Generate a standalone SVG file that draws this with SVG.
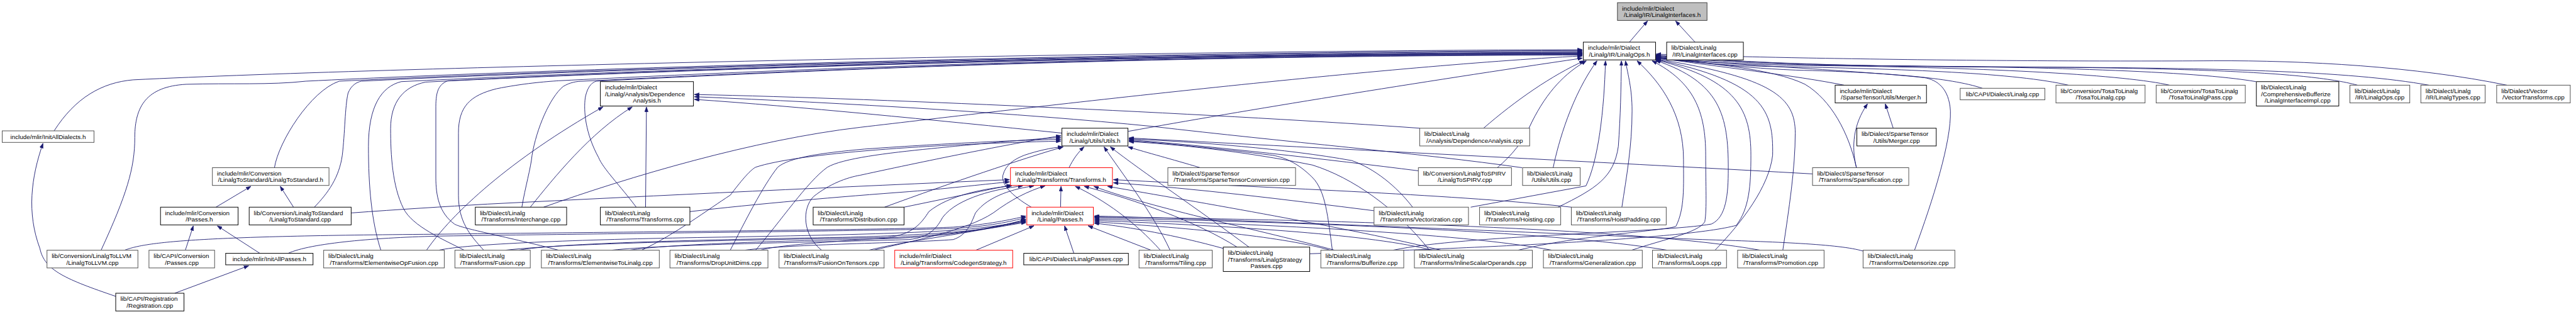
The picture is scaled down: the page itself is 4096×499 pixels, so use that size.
<svg xmlns="http://www.w3.org/2000/svg" width="4096" height="499" viewBox="0 0 4096 499">
<defs>
<marker id="ah" viewBox="0 0 11 8" refX="11" refY="4" markerWidth="11" markerHeight="8" markerUnits="userSpaceOnUse" orient="auto"><path d="M0,0 L11,4 L0,8 z" fill="#191970" stroke="#191970" stroke-width="0.8"/></marker>
</defs>
<style>
.e path{fill:none;stroke:#191970;stroke-width:1.3;marker-end:url(#ah)}
.node rect{fill:#fff;stroke:#000;stroke-width:1.4}
.gy rect{stroke:#505050}
.rd rect{stroke:#ff0000}
.rt rect{fill:#bfbfbf;stroke:#404040}
text{font-family:"Liberation Sans",Arial,Helvetica,sans-serif;font-size:14px;fill:#000}
.c{text-anchor:middle}
</style>
<rect x="0" y="0" width="4096" height="499" fill="#fff"/>
<g transform="scale(0.705)">
<g id="connectors" class="e">
<path d="M3675,95 L3716,47"/>
<path d="M3823,95 L3779,47"/>
<path d="M122,295 C170,220 230,186 300,180 C900,150 2600,114 3569,112"/>
<path d="M228,564 C285,440 304,380 304,310 C304,240 330,195 420,190 C520,187 610,192 690,183 C1290,153 2600,116 3569,114"/>
<path d="M619,378 C628,320 700,205 765,183 C1365,153 2600,118 3569,116"/>
<path d="M709,467 C740,435 765,400 772,350 C778,300 778,240 785,210 C792,192 805,185 815,183 C1415,153 2600,120 3569,118"/>
<path d="M859,564 C838,500 831,420 831,330 C831,240 860,195 905,184 C1505,154 2600,121 3569,119"/>
<path d="M1047,564 C1000,540 930,510 910,470 C885,420 881,350 881,290 C881,230 910,195 960,185 C1560,155 2600,122 3569,120"/>
<path d="M1260,564 C1150,535 1040,515 1025,505 C990,480 983,440 983,400 L983,240 C983,205 990,190 1010,182 C1610,152 2600,123 3569,121"/>
<path d="M1091,564 C1060,530 1034,500 1034,440 L1034,300 C1034,240 1060,215 1120,200 C1180,188 1230,184 1260,182 C1860,152 2600,124 3569,122"/>
<path d="M1177,467 C1185,420 1197,380 1200,350 C1210,290 1240,220 1270,195 C1285,186 1300,183 1315,183 C1915,153 2600,125 3569,123"/>
<path d="M1435,467 C1400,420 1360,380 1350,355 C1320,300 1316,250 1320,220 C1325,195 1335,186 1345,183 C1945,153 2600,126 3569,124"/>
<path d="M1226,467 C1420,398 1700,315 1940,287 C2300,245 3100,150 3569,126"/>
<path d="M2545,296 C2800,250 3200,185 3569,131"/>
<path d="M3346,289 C3420,225 3500,170 3573,137"/>
<path d="M3377,378 C3410,350 3435,320 3455,275 C3490,205 3530,165 3578,137"/>
<path d="M3503,378 C3515,320 3545,215 3602,137"/>
<path d="M3317,467 L3577,419 C3605,360 3618,250 3621,137"/>
<path d="M3514,467 C3600,425 3640,400 3650,330 C3655,260 3656,200 3657,137"/>
<path d="M3658,467 C3668,400 3681,330 3681,250 C3681,200 3672,170 3666,137"/>
<path d="M3424,564 C3560,530 3760,520 3780,510 C3800,470 3797,420 3797,360 C3797,260 3750,190 3692,137"/>
<path d="M3680,564 C3750,540 3830,525 3845,500 C3850,470 3847,420 3847,350 C3847,250 3820,185 3726,137"/>
<path d="M3142,564 C3300,530 3750,525 3860,505 C3893,490 3898,440 3898,380 C3898,260 3880,185 3734,136"/>
<path d="M2954,572 C3300,560 3800,540 3916,508 C3945,470 3949,420 3949,350 C3949,250 3920,180 3735,135"/>
<path d="M3868,564 C3930,500 3990,420 3998,350 C4000,250 3980,185 3735,134"/>
<path d="M4021,564 C4035,470 4049,380 4049,300 C4049,220 4000,175 3735,133"/>
<path d="M4187,378 C4170,300 4130,225 4071,190 C4000,155 3850,142 3735,132"/>
<path d="M4318,564 C4360,450 4401,320 4399,250 C4396,200 4370,180 4340,175 C4200,160 3900,145 3735,131"/>
<path d="M4159,192 C4050,170 3870,150 3735,130"/>
<path d="M4471,199 C4400,175 4250,163 4050,158 C3900,152 3800,135 3735,129"/>
<path d="M4665,192 C4550,165 4300,155 4000,150 C3850,147 3780,135 3735,128"/>
<path d="M4893,192 C4800,170 4500,152 4100,148 C3900,146 3790,135 3735,127"/>
<path d="M5088,184 C4950,160 4600,150 4200,148 C3950,146 3800,133 3735,126"/>
<path d="M5317,192 C5200,160 4900,152 4400,150 C4000,148 3820,132 3735,125"/>
<path d="M5478,192 C5300,160 5000,152 4500,151 C4000,149 3820,131 3735,124"/>
<path d="M5654,192 C5450,150 5200,136 4992,137 C4500,140 3950,130 3735,122"/>
<path d="M1456,467 L1458,241"/>
<path d="M1196,467 C1250,400 1330,300 1426,241"/>
<path d="M962,564 C1020,480 1150,360 1360,241"/>
<path d="M2395,300 C2100,270 1800,240 1566,224"/>
<path d="M3202,289 C2800,260 2000,222 1566,213"/>
<path d="M3433,378 C3200,345 2900,320 2600,285 C2300,255 1900,232 1566,218"/>
<path d="M2411,378 C2420,360 2430,345 2445,331"/>
<path d="M1447,564 C1520,530 1600,470 1647,440 C1670,410 1690,385 1704,377 C1800,345 2100,325 2393,318"/>
<path d="M1647,564 C1680,500 1720,420 1754,377 C1780,355 1850,345 1950,336 C2150,322 2300,316 2393,314"/>
<path d="M1704,564 C1760,500 1820,410 1866,377 C1900,357 2000,345 2100,335 C2250,320 2350,312 2393,310"/>
<path d="M1853,564 C1810,530 1808,470 1835,443 C1870,415 1910,400 1940,395 C2100,360 2300,320 2393,306"/>
<path d="M1995,467 C2150,410 2300,360 2398,331"/>
<path d="M2639,564 C2600,480 2530,390 2490,331"/>
<path d="M2817,557 C2700,470 2580,390 2504,331"/>
<path d="M2707,378 C2640,358 2590,345 2544,331"/>
<path d="M2326,467 C2280,440 2258,415 2262,395 C2268,370 2290,358 2310,350 C2340,340 2370,333 2397,331"/>
<path d="M3199,385 C3000,360 2720,328 2546,315"/>
<path d="M3186,467 C3150,420 3100,380 3049,362 C2900,335 2700,320 2546,313"/>
<path d="M3005,564 C2995,490 2990,430 2960,400 C2930,370 2900,355 2870,350 C2750,335 2620,322 2546,317"/>
<path d="M3224,564 C3150,470 3050,400 2960,372 C2800,340 2650,325 2546,319"/>
<path d="M4088,392 C3700,370 3000,335 2546,311"/>
<path d="M2392,467 L2393,420"/>
<path d="M2617,564 C2560,500 2490,450 2425,420"/>
<path d="M2790,557 C2700,500 2560,450 2445,420"/>
<path d="M3010,564 C2850,520 2600,470 2467,420"/>
<path d="M3250,564 C3050,515 2700,455 2498,420"/>
<path d="M792,480 C900,472 1000,466 1100,460 C1500,440 1900,421 2277,405"/>
<path d="M1556,477 C1700,460 1900,443 2050,432 C2150,424 2230,414 2277,410"/>
<path d="M2039,467 L2281,417"/>
<path d="M1140,564 C1300,545 1800,540 2000,535 C2060,530 2080,500 2095,477 C2140,440 2220,425 2282,419"/>
<path d="M1380,564 C1500,550 1900,545 2050,540 C2100,535 2115,510 2126,490 C2160,445 2250,425 2307,419"/>
<path d="M1680,564 C1780,550 2050,548 2150,540 C2180,530 2190,505 2200,480 C2230,440 2290,425 2332,419"/>
<path d="M1970,564 C2050,545 2180,520 2240,480 C2280,450 2320,430 2357,419"/>
<path d="M3099,475 C2900,450 2700,425 2511,412"/>
<path d="M3544,467 C3300,440 2900,425 2511,405"/>
<path d="M650,571 C700,548 850,535 1000,532 C1500,525 2000,520 2150,515 C2230,510 2280,500 2314,490"/>
<path d="M281,564 C330,545 450,532 980,528 C1500,522 2000,518 2150,512 C2230,506 2280,495 2314,487"/>
<path d="M990,564 C1050,550 1300,540 1600,535 C1900,530 2100,525 2200,515 C2260,508 2290,502 2314,500"/>
<path d="M1170,564 C1250,548 1600,540 1900,535 C2100,530 2200,520 2250,512 C2280,507 2300,503 2314,502"/>
<path d="M1420,564 C1500,550 1800,542 2000,538 C2150,533 2230,515 2314,496"/>
<path d="M1715,564 C1760,550 1950,540 2100,530 C2200,522 2280,505 2314,494"/>
<path d="M1960,564 C2020,548 2150,530 2230,515 C2270,507 2300,502 2314,498"/>
<path d="M2201,564 L2332,509"/>
<path d="M2422,571 L2401,509"/>
<path d="M2596,564 L2454,509"/>
<path d="M2759,560 C2650,530 2550,512 2468,503"/>
<path d="M3000,564 C2900,535 2700,515 2468,500"/>
<path d="M3230,564 C3100,530 2800,510 2468,497"/>
<path d="M3500,564 C3300,525 2800,503 2468,494"/>
<path d="M3760,564 C3500,520 2900,500 2468,491"/>
<path d="M3970,564 C3700,515 3000,495 2468,489"/>
<path d="M4202,566 C4150,550 4000,545 3840,540 C3400,522 2800,495 2468,487"/>
<path d="M4270,289 L4252,234"/>
<path d="M4187,378 C4175,330 4180,280 4212,234"/>
<path d="M487,467 L566,420"/>
<path d="M662,467 L632,420"/>
<path d="M418,564 L436,509"/>
<path d="M586,571 L490,509"/>
<path d="M394,661 L561,599"/>
<path d="M261,668 C150,630 100,610 90,560 C60,480 70,400 97,323"/>
</g>
<g id="n_root" class="node rt"><rect x="3648" y="6" width="202" height="40"/><text x="3658.5" y="23.5">include/mlir/Dialect</text><text class="c" x="3749" y="38.5">/Linalg/IR/LinalgInterfaces.h</text></g>
<g id="n_ops" class="node"><rect x="3571" y="95" width="163" height="40"/><text x="3581.5" y="112.5">include/mlir/Dialect</text><text class="c" x="3652.5" y="127.5">/Linalg/IR/LinalgOps.h</text></g>
<g id="n_ifcpp" class="node"><rect x="3759" y="95" width="173" height="40"/><text x="3769.5" y="112.5">lib/Dialect/Linalg</text><text class="c" x="3845.5" y="127.5">/IR/LinalgInterfaces.cpp</text></g>
<g id="n_initdial" class="node gy"><rect x="5" y="295" width="207" height="26"/><text class="c" x="108.5" y="313">include/mlir/InitAllDialects.h</text></g>
<g id="n_dah" class="node"><rect x="1354" y="184" width="210" height="55"/><text x="1364.5" y="201.5">include/mlir/Dialect</text><text x="1364.5" y="216.5">/Linalg/Analysis/Dependence</text><text class="c" x="1459" y="231.5">Analysis.h</text></g>
<g id="n_utilsh" class="node"><rect x="2395" y="289" width="149" height="40"/><text x="2405.5" y="306.5">include/mlir/Dialect</text><text class="c" x="2469.5" y="321.5">/Linalg/Utils/Utils.h</text></g>
<g id="n_dacpp" class="node gy"><rect x="3202" y="289" width="248" height="40"/><text x="3212.5" y="306.5">lib/Dialect/Linalg</text><text class="c" x="3326" y="321.5">/Analysis/DependenceAnalysis.cpp</text></g>
<g id="n_mergerh" class="node"><rect x="4139" y="192" width="206" height="40"/><text x="4149.5" y="209.5">include/mlir/Dialect</text><text class="c" x="4242" y="224.5">/SparseTensor/Utils/Merger.h</text></g>
<g id="n_mergercpp" class="node"><rect x="4188" y="289" width="179" height="40"/><text x="4198.5" y="306.5">lib/Dialect/SparseTensor</text><text class="c" x="4277.5" y="321.5">/Utils/Merger.cpp</text></g>
<g id="n_capilinalg" class="node gy"><rect x="4421" y="199" width="191" height="26"/><text class="c" x="4516.5" y="217">lib/CAPI/Dialect/Linalg.cpp</text></g>
<g id="n_tosa" class="node gy"><rect x="4637" y="192" width="201" height="40"/><text x="4647.5" y="209.5">lib/Conversion/TosaToLinalg</text><text class="c" x="4737.5" y="224.5">/TosaToLinalg.cpp</text></g>
<g id="n_tosapass" class="node gy"><rect x="4863" y="192" width="201" height="40"/><text x="4873.5" y="209.5">lib/Conversion/TosaToLinalg</text><text class="c" x="4963.5" y="224.5">/TosaToLinalgPass.cpp</text></g>
<g id="n_cbimpl" class="node"><rect x="5089" y="184" width="186" height="55"/><text x="5099.5" y="201.5">lib/Dialect/Linalg</text><text x="5099.5" y="216.5">/ComprehensiveBufferize</text><text class="c" x="5182" y="231.5">/LinalgInterfaceImpl.cpp</text></g>
<g id="n_opscpp" class="node gy"><rect x="5300" y="192" width="135" height="40"/><text x="5310.5" y="209.5">lib/Dialect/Linalg</text><text class="c" x="5367.5" y="224.5">/IR/LinalgOps.cpp</text></g>
<g id="n_typescpp" class="node gy"><rect x="5460" y="192" width="145" height="40"/><text x="5470.5" y="209.5">lib/Dialect/Linalg</text><text class="c" x="5532.5" y="224.5">/IR/LinalgTypes.cpp</text></g>
<g id="n_vector" class="node gy"><rect x="5631" y="192" width="166" height="40"/><text x="5641.5" y="209.5">lib/Dialect/Vector</text><text class="c" x="5714" y="224.5">/VectorTransforms.cpp</text></g>
<g id="n_l2sh" class="node gy"><rect x="479" y="378" width="263" height="40"/><text x="489.5" y="395.5">include/mlir/Conversion</text><text class="c" x="610.5" y="410.5">/LinalgToStandard/LinalgToStandard.h</text></g>
<g id="n_convpasses" class="node"><rect x="362" y="467" width="175" height="40"/><text x="372.5" y="484.5">include/mlir/Conversion</text><text class="c" x="449.5" y="499.5">/Passes.h</text></g>
<g id="n_l2scpp" class="node"><rect x="562" y="467" width="230" height="40"/><text x="572.5" y="484.5">lib/Conversion/LinalgToStandard</text><text class="c" x="677" y="499.5">/LinalgToStandard.cpp</text></g>
<g id="n_l2llvm" class="node gy"><rect x="106" y="564" width="205" height="40"/><text x="116.5" y="581.5">lib/Conversion/LinalgToLLVM</text><text class="c" x="208.5" y="596.5">/LinalgToLLVM.cpp</text></g>
<g id="n_capiconv" class="node gy"><rect x="336" y="564" width="148" height="40"/><text x="346.5" y="581.5">lib/CAPI/Conversion</text><text class="c" x="410" y="596.5">/Passes.cpp</text></g>
<g id="n_initpasses" class="node"><rect x="509" y="571" width="197" height="26"/><text class="c" x="607.5" y="589">include/mlir/InitAllPasses.h</text></g>
<g id="n_ewopfusion" class="node gy"><rect x="730" y="564" width="272" height="40"/><text x="740.5" y="581.5">lib/Dialect/Linalg</text><text class="c" x="866" y="596.5">/Transforms/ElementwiseOpFusion.cpp</text></g>
<g id="n_registration" class="node"><rect x="261" y="661" width="154" height="40"/><text x="271.5" y="678.5">lib/CAPI/Registration</text><text class="c" x="338" y="693.5">/Registration.cpp</text></g>
<g id="n_interchange" class="node"><rect x="1072" y="467" width="206" height="40"/><text x="1082.5" y="484.5">lib/Dialect/Linalg</text><text class="c" x="1175" y="499.5">/Transforms/Interchange.cpp</text></g>
<g id="n_transformscpp" class="node"><rect x="1354" y="467" width="202" height="40"/><text x="1364.5" y="484.5">lib/Dialect/Linalg</text><text class="c" x="1455" y="499.5">/Transforms/Transforms.cpp</text></g>
<g id="n_distribution" class="node"><rect x="1834" y="467" width="205" height="40"/><text x="1844.5" y="484.5">lib/Dialect/Linalg</text><text class="c" x="1936.5" y="499.5">/Transforms/Distribution.cpp</text></g>
<g id="n_fusion" class="node gy"><rect x="1026" y="564" width="170" height="40"/><text x="1036.5" y="581.5">lib/Dialect/Linalg</text><text class="c" x="1111" y="596.5">/Transforms/Fusion.cpp</text></g>
<g id="n_ew2linalg" class="node gy"><rect x="1221" y="564" width="266" height="40"/><text x="1231.5" y="581.5">lib/Dialect/Linalg</text><text class="c" x="1354" y="596.5">/Transforms/ElementwiseToLinalg.cpp</text></g>
<g id="n_dropunit" class="node gy"><rect x="1511" y="564" width="221" height="40"/><text x="1521.5" y="581.5">lib/Dialect/Linalg</text><text class="c" x="1621.5" y="596.5">/Transforms/DropUnitDims.cpp</text></g>
<g id="n_fot" class="node gy"><rect x="1757" y="564" width="237" height="40"/><text x="1767.5" y="581.5">lib/Dialect/Linalg</text><text class="c" x="1875.5" y="596.5">/Transforms/FusionOnTensors.cpp</text></g>
<g id="n_transformsh" class="node rd"><rect x="2279" y="378" width="230" height="40"/><text x="2289.5" y="395.5">include/mlir/Dialect</text><text class="c" x="2394" y="410.5">/Linalg/Transforms/Transforms.h</text></g>
<g id="n_passesh" class="node rd"><rect x="2316" y="467" width="150" height="40"/><text x="2326.5" y="484.5">include/mlir/Dialect</text><text class="c" x="2391" y="499.5">/Linalg/Passes.h</text></g>
<g id="n_sparseconv" class="node gy"><rect x="2634" y="378" width="288" height="40"/><text x="2644.5" y="395.5">lib/Dialect/SparseTensor</text><text class="c" x="2778" y="410.5">/Transforms/SparseTensorConversion.cpp</text></g>
<g id="n_codegen" class="node rd"><rect x="2018" y="564" width="266" height="40"/><text x="2028.5" y="581.5">include/mlir/Dialect</text><text class="c" x="2151" y="596.5">/Linalg/Transforms/CodegenStrategy.h</text></g>
<g id="n_capipasses" class="node"><rect x="2309" y="571" width="236" height="26"/><text class="c" x="2427" y="589">lib/CAPI/Dialect/LinalgPasses.cpp</text></g>
<g id="n_tiling" class="node gy"><rect x="2569" y="564" width="165" height="40"/><text x="2579.5" y="581.5">lib/Dialect/Linalg</text><text class="c" x="2651.5" y="596.5">/Transforms/Tiling.cpp</text></g>
<g id="n_strategy" class="node"><rect x="2759" y="557" width="195" height="55"/><text x="2769.5" y="574.5">lib/Dialect/Linalg</text><text x="2769.5" y="589.5">/Transforms/LinalgStrategy</text><text class="c" x="2856.5" y="604.5">Passes.cpp</text></g>
<g id="n_l2spirv" class="node gy"><rect x="3199" y="378" width="210" height="40"/><text x="3209.5" y="395.5">lib/Conversion/LinalgToSPIRV</text><text class="c" x="3304" y="410.5">/LinalgToSPIRV.cpp</text></g>
<g id="n_utilscpp" class="node gy"><rect x="3434" y="378" width="130" height="40"/><text x="3444.5" y="395.5">lib/Dialect/Linalg</text><text class="c" x="3499" y="410.5">/Utils/Utils.cpp</text></g>
<g id="n_vectorization" class="node gy"><rect x="3099" y="467" width="213" height="40"/><text x="3109.5" y="484.5">lib/Dialect/Linalg</text><text class="c" x="3205.5" y="499.5">/Transforms/Vectorization.cpp</text></g>
<g id="n_hoisting" class="node gy"><rect x="3337" y="467" width="183" height="40"/><text x="3347.5" y="484.5">lib/Dialect/Linalg</text><text class="c" x="3428.5" y="499.5">/Transforms/Hoisting.cpp</text></g>
<g id="n_hoistpad" class="node gy"><rect x="3544" y="467" width="214" height="40"/><text x="3554.5" y="484.5">lib/Dialect/Linalg</text><text class="c" x="3651" y="499.5">/Transforms/HoistPadding.cpp</text></g>
<g id="n_bufferize" class="node gy"><rect x="2979" y="564" width="187" height="40"/><text x="2989.5" y="581.5">lib/Dialect/Linalg</text><text class="c" x="3072.5" y="596.5">/Transforms/Bufferize.cpp</text></g>
<g id="n_inline" class="node gy"><rect x="3190" y="564" width="266" height="40"/><text x="3200.5" y="581.5">lib/Dialect/Linalg</text><text class="c" x="3323" y="596.5">/Transforms/InlineScalarOperands.cpp</text></g>
<g id="n_generalization" class="node gy"><rect x="3481" y="564" width="223" height="40"/><text x="3491.5" y="581.5">lib/Dialect/Linalg</text><text class="c" x="3592.5" y="596.5">/Transforms/Generalization.cpp</text></g>
<g id="n_loops" class="node gy"><rect x="3727" y="564" width="167" height="40"/><text x="3737.5" y="581.5">lib/Dialect/Linalg</text><text class="c" x="3810.5" y="596.5">/Transforms/Loops.cpp</text></g>
<g id="n_sparsification" class="node gy"><rect x="4088" y="378" width="217" height="40"/><text x="4098.5" y="395.5">lib/Dialect/SparseTensor</text><text class="c" x="4196.5" y="410.5">/Transforms/Sparsification.cpp</text></g>
<g id="n_promotion" class="node gy"><rect x="3919" y="564" width="195" height="40"/><text x="3929.5" y="581.5">lib/Dialect/Linalg</text><text class="c" x="4016.5" y="596.5">/Transforms/Promotion.cpp</text></g>
<g id="n_detensorize" class="node gy"><rect x="4202" y="564" width="207" height="40"/><text x="4212.5" y="581.5">lib/Dialect/Linalg</text><text class="c" x="4305.5" y="596.5">/Transforms/Detensorize.cpp</text></g>
</g>
</svg>
